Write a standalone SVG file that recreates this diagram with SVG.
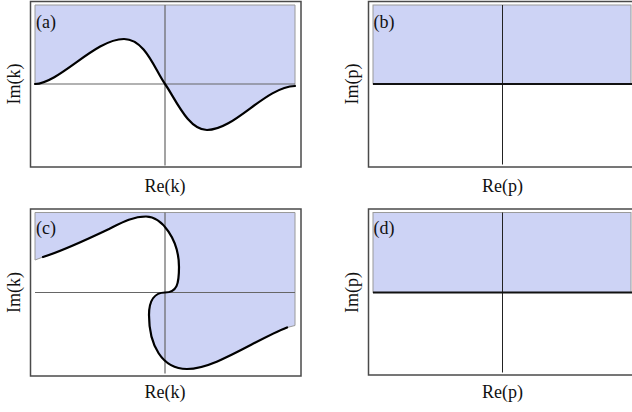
<svg xmlns="http://www.w3.org/2000/svg" width="632" height="412" viewBox="0 0 632 412">
<style>
.frame{fill:none;stroke:#4a4a4a;stroke-width:1.5}
.shade{fill:#cdd3f5;stroke:#9a9a9a;stroke-width:1}
.axis{stroke:#666;stroke-width:1.2;fill:none}
.axisd{stroke:#222;stroke-width:1;fill:none}
.thick{stroke:#111;stroke-width:2.2;fill:none}
.curve{fill:none;stroke:#000;stroke-width:2.2;stroke-linejoin:round;stroke-linecap:round}
text{font-family:"Liberation Serif","Times New Roman",serif;font-size:18px;fill:#111}
.mid{text-anchor:middle}
</style>
<rect width="632" height="412" fill="#fff"/>

<g id="panel-a">
<rect class="frame" x="30.5" y="1.5" width="270.5" height="165.5"/>
<path class="shade" d="M35,84 C60,83 95,39 124,39 C145,39 155,70 165,84 C175,98 188,130 207,130 C235,130 265,87 295,86 L295,5 L35,5 Z"/>
<line class="axis" x1="35" y1="84" x2="295" y2="84"/>
<line class="axis" x1="165" y1="5" x2="165" y2="165.5"/>
<path class="curve" d="M35,84 C60,83 95,39 124,39 C145,39 155,70 165,84 C175,98 188,130 207,130 C235,130 265,87 295,86"/>
<text x="36" y="28">(a)</text>
<text class="mid" x="165" y="192">Re(k)</text>
<text class="mid" transform="translate(20,84) rotate(-90)">Im(k)</text>
</g>

<g id="panel-b">
<rect class="frame" x="368.5" y="1.5" width="275" height="165.5"/>
<rect class="shade" x="373" y="5" width="258" height="79"/>
<line class="axisd" x1="502.5" y1="5" x2="502.5" y2="164.5"/>
<line class="thick" x1="373" y1="84" x2="632" y2="84"/>
<text x="373.5" y="28">(b)</text>
<text class="mid" x="502.5" y="192">Re(p)</text>
<text class="mid" transform="translate(358,84) rotate(-90)">Im(p)</text>
</g>

<g id="panel-c">
<rect class="frame" x="30.5" y="209" width="270.5" height="167"/>
<path class="shade" d="M43,257 C65,250 90,238 110,228.5 C122,222.5 133,216.5 146,216.5 C162,216.5 179,240 179,267 C179,284 177,292.5 165,292.5 C155,292.5 149,300 149,315 C149,345 162,369 187,369 C215,369 255,340 287,327.5 L295,325.5 L295,212.5 L35,212.5 L35,260 Z"/>
<line class="axis" x1="35" y1="292.5" x2="295" y2="292.5"/>
<line class="axis" x1="165" y1="212.5" x2="165" y2="373.5"/>
<path class="curve" d="M43,257 C65,250 90,238 110,228.5 C122,222.5 133,216.5 146,216.5 C162,216.5 179,240 179,267 C179,284 177,292.5 165,292.5 C155,292.5 149,300 149,315 C149,345 162,369 187,369 C215,369 255,340 287,327.5"/>
<text x="36" y="234">(c)</text>
<text class="mid" x="165" y="398">Re(k)</text>
<text class="mid" transform="translate(20,292.5) rotate(-90)">Im(k)</text>
</g>

<g id="panel-d">
<rect class="frame" x="368.5" y="209" width="275" height="166"/>
<rect class="shade" x="373" y="212.5" width="258" height="80"/>
<line class="axisd" x1="502.5" y1="212.5" x2="502.5" y2="372.5"/>
<line class="thick" x1="373" y1="292.5" x2="632" y2="292.5"/>
<text x="373.5" y="234">(d)</text>
<text class="mid" x="502.5" y="398">Re(p)</text>
<text class="mid" transform="translate(358,292.5) rotate(-90)">Im(p)</text>
</g>

<g id="connectors"></g>
</svg>
